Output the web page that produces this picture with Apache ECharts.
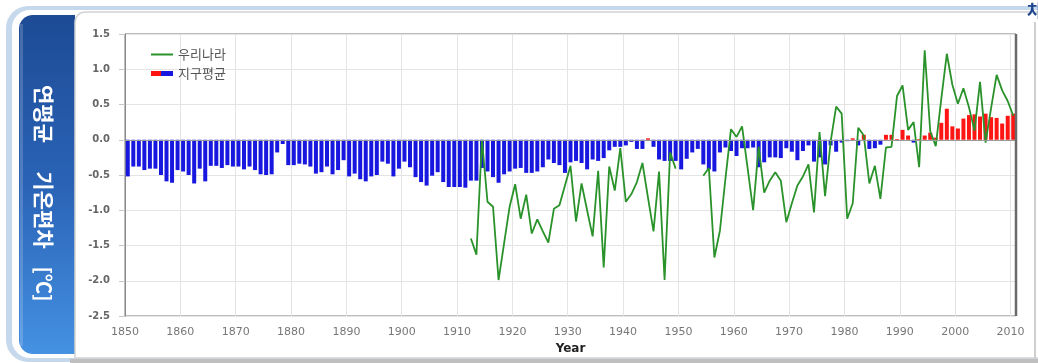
<!DOCTYPE html>
<html>
<head>
<meta charset="utf-8">
<script src="https://cdn.jsdelivr.net/npm/echarts@6/dist/echarts.min.js"></script>
<style>
html,body{margin:0;padding:0;background:#fff;}
#chart{width:1038px;height:363px;}
</style>
</head>
<body>
<div id="chart"></div>
<script>
// ---- categories ----
const firstYear = 1850;
const lastYear = 2010;
const years = [];
for (let y = firstYear; y <= lastYear; y++) years.push(String(y));

// ---- 지구평균 (global mean anomaly), 1850..2010 ----
const globalAnom = [
  -0.52,-0.38,-0.38,-0.43,-0.41,-0.41,-0.50,-0.59,-0.61,-0.43, // 1850s
  -0.45,-0.50,-0.62,-0.41,-0.59,-0.37,-0.37,-0.40,-0.36,-0.38, // 1860s
  -0.38,-0.42,-0.38,-0.43,-0.49,-0.50,-0.49,-0.18,-0.06,-0.36, // 1870s
  -0.36,-0.34,-0.35,-0.38,-0.48,-0.46,-0.38,-0.49,-0.43,-0.29, // 1880s
  -0.52,-0.48,-0.56,-0.59,-0.52,-0.50,-0.31,-0.34,-0.52,-0.41, // 1890s
  -0.31,-0.39,-0.53,-0.60,-0.65,-0.51,-0.46,-0.60,-0.67,-0.67, // 1900s
  -0.67,-0.68,-0.58,-0.58,-0.40,-0.45,-0.53,-0.61,-0.49,-0.45, // 1910s
  -0.41,-0.40,-0.47,-0.47,-0.45,-0.39,-0.28,-0.33,-0.36,-0.47, // 1920s
  -0.32,-0.30,-0.33,-0.42,-0.28,-0.30,-0.26,-0.15,-0.10,-0.10, // 1930s
  -0.08,-0.03,-0.13,-0.13, 0.02,-0.10,-0.28,-0.30,-0.30,-0.30, // 1940s
  -0.42,-0.27,-0.18,-0.13,-0.35,-0.42,-0.45,-0.18,-0.11,-0.16, // 1950s
  -0.23,-0.12,-0.12,-0.11,-0.39,-0.32,-0.25,-0.25,-0.26,-0.12, // 1960s
  -0.17,-0.29,-0.16,-0.08,-0.31,-0.25,-0.35,-0.08,-0.17,-0.04, // 1970s
  -0.02, 0.02,-0.08, 0.07,-0.13,-0.12,-0.07, 0.07, 0.07, 0.01, // 1980s
   0.14, 0.06,-0.04, 0.01, 0.06, 0.10, 0.03, 0.24, 0.44, 0.19, // 1990s
   0.16, 0.30, 0.35, 0.36, 0.33, 0.37, 0.32, 0.31, 0.23, 0.34, 0.37 // 2000s-2010
];

// ---- 우리나라 (Korea anomaly), 1912..2010, null = no data ----
const koreaStart = 1912;
const koreaAnom = [
  -1.40,-1.63, 0.00,-0.88,-0.95,-1.99,-1.47,-0.95,            // 1912-1919
  -0.63,-1.12,-0.78,-1.33,-1.13,-1.30,-1.46,-0.98,-0.93,-0.65, // 1920s
  -0.37,-1.16,-0.62,-1.00,-1.37,-0.44,-1.81,-0.38,-0.72,-0.12, // 1930s
  -0.88,-0.77,-0.60,-0.33,-0.82,-1.30,-0.45,-1.99,-0.18,-0.41, // 1940s
  null, null, null, null,-0.51,-0.40,-1.67,-1.29,-0.55, 0.15,  // 1950s
   0.04, 0.19,-0.40,-1.00,-0.10,-0.75,-0.58,-0.46,-0.58,-1.17, // 1960s
  -0.90,-0.65,-0.52,-0.35,-1.03, 0.11,-0.80,-0.03, 0.47, 0.37, // 1970s
  -1.12,-0.90, 0.17, 0.06,-0.62,-0.37,-0.84,-0.11,-0.10, 0.62, // 1980s
   0.77, 0.14, 0.25,-0.39, 1.27, 0.12,-0.09, 0.58, 1.22, 0.78, // 1990s
   0.51, 0.73, 0.46, 0.13, 0.82,-0.04, 0.45, 0.92, 0.70, 0.55, 0.34 // 2000s-2010
];

// ---- y axis ticks ----
const yMin = -2.5, yMax = 1.5, yStep = 0.5;

const koreaSeries = years.map(y => {
  const i = Number(y) - koreaStart;
  if (i < 0 || i >= koreaAnom.length || koreaAnom[i] === null) return '-';
  return koreaAnom[i];
});

const chart = echarts.init(document.getElementById('chart'), null, {renderer: 'canvas'});
const decade = (idx, val) => Number(val) % 10 === 0;

const legendBarIcon = new echarts.graphic.LinearGradient(0, 0, 1, 0, [
  {offset: 0, color: '#ff1414'}, {offset: 0.45, color: '#ff1414'},
  {offset: 0.45, color: '#1717e0'}, {offset: 1, color: '#1717e0'}
]);

const option = {
  animation: false,
  backgroundColor: '#ffffff',
  grid: {
    left: 125, top: 34, right: 22, bottom: 47,
    show: true, borderColor: '#7a7a7a', borderWidth: 1, backgroundColor: 'transparent'
  },
  legend: {
    orient: 'vertical', left: 146, top: 43,
    itemWidth: 22, itemHeight: 5, itemGap: 6,
    textStyle: {fontFamily: '"Noto Sans CJK KR"', fontSize: 13, color: '#555'},
    data: [
      {name: '우리나라', icon: 'path://M0,0 L0.01,0 M0,5 L0.01,5 M0,1.6 L22,1.6 L22,3.4 L0,3.4 Z',
       itemStyle: {color: '#2a922a', borderWidth: 0}},
      {name: '지구평균', icon: 'rect', itemStyle: {color: legendBarIcon}}
    ]
  },
  xAxis: {
    type: 'category',
    data: years,
    boundaryGap: true,
    name: 'Year',
    nameLocation: 'middle',
    nameGap: 27,
    nameTextStyle: {fontFamily: '"DejaVu Sans"', fontWeight: 'bold', fontSize: 12, color: '#222'},
    axisLine: {show: true, lineStyle: {color: '#8a8a8a', width: 1}},
    axisTick: {show: false},
    axisLabel: {
      interval: decade, margin: 11,
      fontFamily: '"DejaVu Sans"', fontSize: 11, color: '#777',
      padding: [0, 5.5, 0, 0]
    },
    splitLine: {show: true, interval: decade, lineStyle: {color: '#e4e4e4', width: 1}}
  },
  yAxis: {
    type: 'value',
    min: yMin, max: yMax, interval: yStep,
    axisLine: {show: true, lineStyle: {color: '#8a8a8a'}},
    axisTick: {show: true, length: 6, lineStyle: {color: '#c8c8c8'}},
    axisLabel: {
      margin: 15, fontFamily: '"DejaVu Sans"', fontWeight: 'bold', fontSize: 10, color: '#666',
      formatter: v => v.toFixed(1)
    },
    splitLine: {show: true, lineStyle: {color: '#e4e4e4', width: 1}}
  },
  series: [
    {
      name: '지구평균',
      type: 'bar',
      data: globalAnom,
      barWidth: 4,
      itemStyle: {color: p => (p.value >= 0 ? '#ff1414' : '#1717e0')},
      z: 2,
      markLine: {
        silent: true, symbol: ['none', 'none'], animation: false,
        label: {show: false},
        lineStyle: {color: '#9a9a9a', width: 1, type: 'solid'},
        data: [{yAxis: 0}]
      }
    },
    {
      name: '우리나라',
      type: 'line',
      data: koreaSeries,
      symbol: 'none',
      connectNulls: false,
      lineStyle: {color: '#2a922a', width: 1.8},
      itemStyle: {color: '#2a922a'},
      z: 4
    }
  ],
  graphic: [
    // outer frame
    {type: 'rect', z: -20, shape: {x: 6, y: 6, width: 1100, height: 356, r: 22},
     style: {fill: '#c6d8ec'}},
    {type: 'rect', z: -19, shape: {x: 12, y: 10, width: 1100, height: 348, r: 18},
     style: {fill: '#ffffff'}},
    // left blue panel
    {type: 'rect', z: -18, shape: {x: 19, y: 15, width: 56, height: 339, r: [14, 0, 0, 14]},
     style: {fill: new echarts.graphic.LinearGradient(0, 0, 0, 1, [
       {offset: 0, color: '#1d4b95'}, {offset: 0.5, color: '#2a63b6'}, {offset: 1, color: '#4591e2'}
     ])}},
    {type: 'rect', z: -17, shape: {x: 20, y: 24, width: 3, height: 322},
     style: {fill: 'rgba(255,255,255,0.18)'}},
    // content frame top/left
    {type: 'rect', z: -16, shape: {x: 75, y: 12, width: 1000, height: 346, r: [10, 0, 0, 0]},
     style: {fill: 'none', stroke: '#d2d2d2', lineWidth: 1.5}},
    // bottom gray band
    {type: 'rect', z: -15, shape: {x: 70, y: 359, width: 968, height: 4},
     style: {fill: '#bfbfbf'}},
    // right edge line
    {type: 'line', z: -15, shape: {x1: 1035, y1: 22, x2: 1035, y2: 358},
     style: {stroke: '#cfcfcf', lineWidth: 2}},
    // thicker right plot border
    {type: 'line', z: 10, shape: {x1: 1016, y1: 34, x2: 1016, y2: 316},
     style: {stroke: '#6a6a6a', lineWidth: 2.5}},
    // rotated panel title
    {type: 'text', z: 20, x: 44, y: 114, rotation: -Math.PI / 2,
     style: {text: '연평균', fill: '#ffffff', font: 'bold 21px "Noto Sans CJK KR"',
             align: 'center', verticalAlign: 'middle', textAlign: 'center', textVerticalAlign: 'middle'}},
    {type: 'text', z: 20, x: 44, y: 210, rotation: -Math.PI / 2,
     style: {text: '기온편차', fill: '#ffffff', font: 'bold 21px "Noto Sans CJK KR"',
             align: 'center', verticalAlign: 'middle', textAlign: 'center', textVerticalAlign: 'middle'}},
    {type: 'text', z: 20, x: 44, y: 284, rotation: -Math.PI / 2,
     style: {text: '[℃]', fill: '#ffffff', font: 'bold 20px "Noto Sans CJK KR"',
             align: 'center', verticalAlign: 'middle', textAlign: 'center', textVerticalAlign: 'middle'}},
    // cut-off glyph top right
    {type: 'text', z: 20, x: 1027, y: 2,
     style: {text: '차', fill: '#1d4590', font: 'bold 17px "Noto Sans CJK KR"',
             align: 'left', verticalAlign: 'top', textAlign: 'left', textVerticalAlign: 'top'}}
  ]
};
chart.setOption(option);
</script>
</body>
</html>
